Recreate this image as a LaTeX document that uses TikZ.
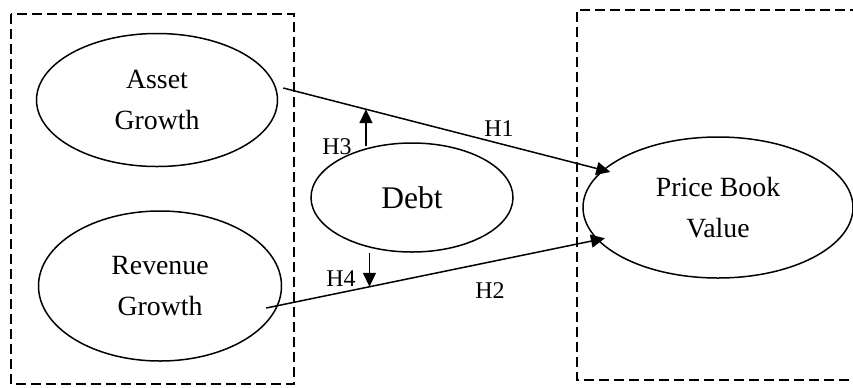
\documentclass[tikz,border=0pt]{standalone}
\usepackage{fontspec}
\setmainfont{Liberation Serif}
\usetikzlibrary{shapes.geometric,arrows.meta,calc}

\begin{document}
\begin{tikzpicture}[x=0.5pt, y=-0.5pt, line width=0.75pt,
  var/.style={draw, ellipse, inner sep=0pt, align=center, font=\fontsize{13.9}{20.5}\selectfont},
  grp/.style={draw, line width=1.3pt, dash pattern=on 5pt off 2.5pt},
  hyp/.style={inner sep=0pt, font=\fontsize{12}{14}\selectfont},
  >={Triangle[length=7pt,width=6.5pt]}]
\useasboundingbox (0,0) rectangle (853,387);
% dashed frames
\draw[grp] (11,14) rectangle (294,384);
\draw[grp] (860,10) -- (577,10) -- (577,380) -- (860,380);
% variables
\node[var, minimum width=120.5pt, minimum height=66.5pt] (ag) at (157,100) {Asset\\Growth};
\node[var, minimum width=121.5pt, minimum height=75pt] (rg) at (160,286) {Revenue\\Growth};
\node[var, minimum width=101pt, minimum height=54.5pt, font=\fontsize{15.75}{19}\selectfont] (debt) at (412,197.5) {Debt};
\node[var, minimum width=135pt, minimum height=70.5pt] (pbv) at (718,207.5) {Price Book\\Value};
% direct effects
\draw[->, shorten >=-4pt] ($(ag.east)+(5,-12)$) -- (pbv.162) coordinate[pos=0.259] (h3t);
\draw[->, shorten >=-4pt] ($(rg.east)+(-16,22)$) -- (pbv.195) coordinate[pos=0.312] (h4t);
% moderation
\draw[->] ($(debt.north -| h3t)+(0,4)$) -- (h3t);
\draw[->] (debt.south -| h4t) -- (h4t);
% labels
\node[hyp] (h1) at (499,129) {H1};
\node[hyp] (h2) at (490,290.5) {H2};
\node[hyp] (h3) at (337,147) {H3};
\node[hyp] (h4) at (341,279) {H4};
\end{tikzpicture}
\end{document}
